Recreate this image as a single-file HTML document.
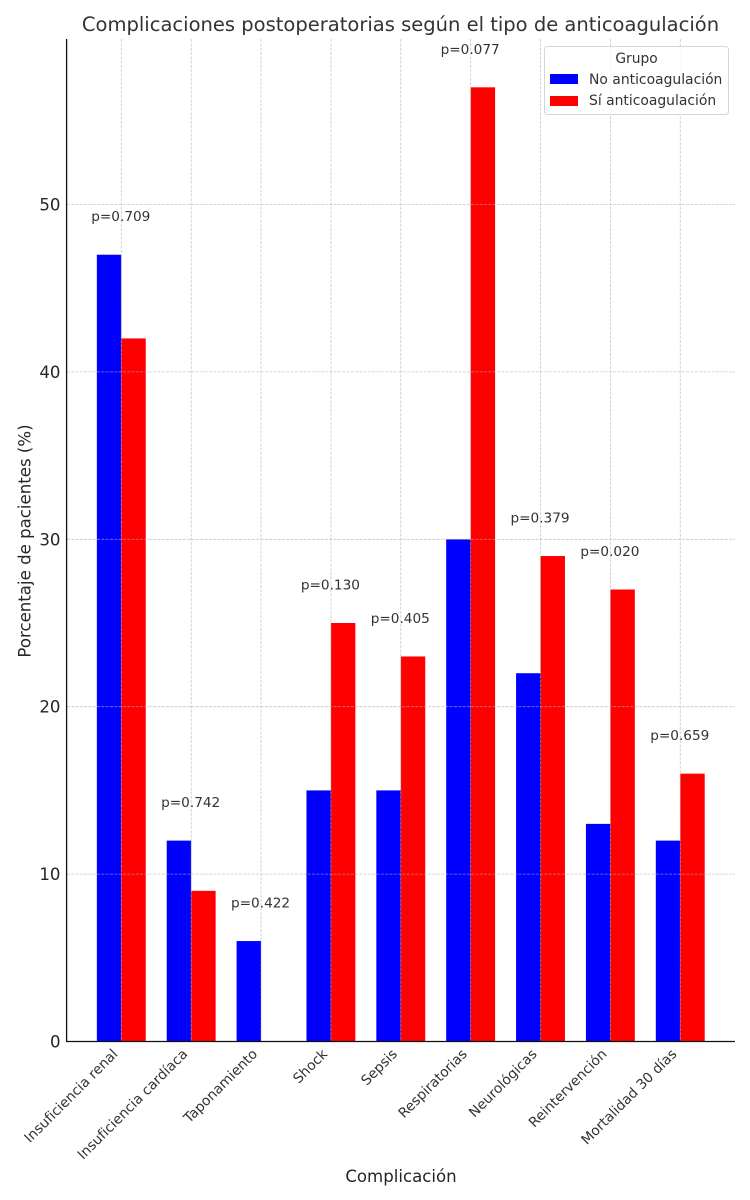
<!DOCTYPE html>
<html lang="es">
<head>
<meta charset="utf-8">
<title>Complicaciones postoperatorias</title>
<style>
html,body{margin:0;padding:0;background:#fff;width:750px;height:1200px;overflow:hidden}
svg{display:block;font-family:"DejaVu Sans","Liberation Sans",sans-serif}
</style>
</head>
<body>
<svg id="chart" width="750" height="1200" viewBox="0 0 750 1200" xmlns="http://www.w3.org/2000/svg">
  <rect x="0" y="0" width="750" height="1200" fill="#ffffff"/>
  <g id="bars"></g>
  <g id="grid"></g>
  <g id="pvalues"></g>
  <line x1="66.6" y1="39" x2="66.6" y2="1042" stroke="#111111" stroke-width="1.3"/>
  <line x1="66" y1="1041.5" x2="735" y2="1041.5" stroke="#111111" stroke-width="1.3"/>
  <g id="yticks"></g>
  <g id="xticks"></g>
  <text x="400.5" y="31" text-anchor="middle" font-size="19.53" fill="#333333">Complicaciones postoperatorias según el tipo de anticoagulación</text>
  <text x="401" y="1182" text-anchor="middle" font-size="16.6" fill="#262626">Complicación</text>
  <text transform="translate(30.5,541) rotate(-90)" text-anchor="middle" font-size="16.6" fill="#262626">Porcentaje de pacientes (%)</text>
  <g>
    <rect x="544.5" y="46.5" width="184" height="68" rx="3" fill="#ffffff" fill-opacity="0.8" stroke="#d5d5d5" stroke-width="1"/>
    <text x="636.5" y="63" text-anchor="middle" font-size="13.8" fill="#333333">Grupo</text>
    <rect x="550" y="74" width="28" height="10" fill="#0000ff"/>
    <text x="589" y="84" font-size="13.9" fill="#333333">No anticoagulación</text>
    <rect x="550" y="96" width="28" height="10" fill="#ff0000"/>
    <text x="589" y="105" font-size="13.9" fill="#333333">Sí anticoagulación</text>
  </g>
</svg>
<script>
const categories = ["Insuficiencia renal", "Insuficiencia cardíaca", "Taponamiento", "Shock", "Sepsis", "Respiratorias", "Neurológicas", "Reintervención", "Mortalidad 30 días"];
const noAnticoagulacion = [47, 12, 6, 15, 15, 30, 22, 13, 12];
const siAnticoagulacion = [42, 9, 0, 25, 23, 57, 29, 27, 16];
const pValues = ["p=0.709", "p=0.742", "p=0.422", "p=0.130", "p=0.405", "p=0.077", "p=0.379", "p=0.020", "p=0.659"];
const yTickValues = [0, 10, 20, 30, 40, 50];

const NS = "http://www.w3.org/2000/svg";
const xBase = 121.3, xStep = 69.87, barWidth = 24.45;
const yBase = 1041.5, yScale = 16.74, pOffset = 2;
function xPos(i) { return xBase + i * xStep; }
function yPos(v) { return yBase - v * yScale; }
function make(tag, parent, attrs) {
  const el = document.createElementNS(NS, tag);
  for (const k in attrs) el.setAttribute(k, attrs[k]);
  parent.appendChild(el);
  return el;
}
const barsG = document.getElementById("bars");
const gridG = document.getElementById("grid");
const pG = document.getElementById("pvalues");
const yG = document.getElementById("yticks");
const xG = document.getElementById("xticks");

categories.forEach(function (cat, i) {
  const a = noAnticoagulacion[i], b = siAnticoagulacion[i];
  const r1 = make("rect", barsG, { x: xPos(i) - barWidth, y: yPos(a), width: barWidth, height: yBase - yPos(a), fill: "#0000ff" });
  
  
  const r2 = make("rect", barsG, { x: xPos(i), y: yPos(b), width: barWidth, height: yBase - yPos(b), fill: "#ff0000" });
  
  

  const gl = make("line", gridG, { x1: xPos(i), x2: xPos(i), y1: 39, y2: yBase, stroke: "#b0b0b0", "stroke-opacity": 0.7, "stroke-width": 0.8, "stroke-dasharray": "3 1.3" });
  
  

  const p = make("text", pG, { x: xPos(i) - 0.5, y: yPos(Math.max(a, b) + pOffset), "text-anchor": "middle", "font-size": 13.65, fill: "#333333" });
  p.textContent = pValues[i];
  
  

  const lx = xPos(i) - 2.8, ly = 1054.8;
  const t = make("text", xG, { transform: "translate(" + lx + "," + ly + ") rotate(-45)", "text-anchor": "end", "font-size": 13.8, fill: "#333333" });
  t.textContent = cat;
  
  
});

yTickValues.forEach(function (v) {
  if (v > 0) {
    const gl = make("line", gridG, { x1: 67, x2: 735, y1: yPos(v), y2: yPos(v), stroke: "#b0b0b0", "stroke-opacity": 0.7, "stroke-width": 0.8, "stroke-dasharray": "3 1.3" });
    
    
  }
  const t = make("text", yG, { x: 60.5, y: yPos(v) + 6, "text-anchor": "end", "font-size": 16.6, fill: "#262626" });
  t.textContent = v;
  
  
});
</script>
</body>
</html>
